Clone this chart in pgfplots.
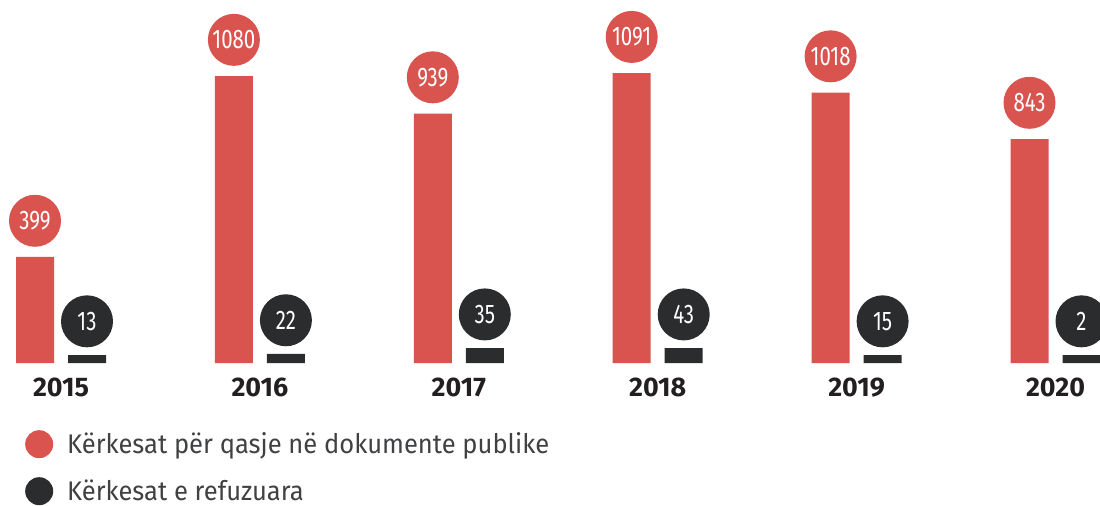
\documentclass[border=0pt]{standalone}
\usepackage{fontspec}
\setmainfont{Fira Sans}
\newfontfamily\numfont[FakeStretch=0.76]{Fira Sans}
\newfontfamily\legfont[FakeStretch=0.95]{Fira Sans}
\usepackage{pgfplots}
\usepackage{pgfplotstable}
\pgfplotsset{compat=1.18}

\definecolor{redbar}{RGB}{217,83,79}
\definecolor{darkbar}{RGB}{43,44,46}
\definecolor{yeartext}{RGB}{35,31,32}

% requests for access to public documents
\pgfplotstableread{
x h v
0 399 399
1 1080 1080
2 939 939
3 1091 1091
4 1018 1018
5 843 843
}\requests

% refused requests: h = drawn bar height, v = printed value
\pgfplotstableread{
x h v
0 30 13
1 34 22
2 56 35
3 56 43
4 30 15
5 30 2
}\refused

\begin{document}
\begin{tikzpicture}
\begin{axis}[
    width=1100bp, height=363bp, scale only axis,
    xmin=-0.30669, xmax=5.22373,
    ymin=0, ymax=1366.2,
    axis line style={draw=none},
    ytick=\empty,
    xtick={0,...,5},
    xticklabels={2015,2016,2017,2018,2019,2020},
    major tick length=0pt,
    xtick style={draw=none},
    xticklabel style={font=\bfseries\fontsize{27}{30}\selectfont, text=yeartext,
        anchor=north, inner sep=0pt, yshift=-15bp},
    legend style={at={(axis description cs:0.022727,-0.18457)}, anchor=north west,
        draw=none, fill=none, inner sep=0pt, row sep=19bp,
        font=\legfont\fontsize{27}{30}\selectfont,
        nodes={inner sep=0pt, text=darkbar!90}},
    legend cell align=left,
    nodes near coords,
    point meta=explicit symbolic,
]
\addplot[ybar, bar width=38bp, bar shift=-26bp, fill=redbar, draw=none,
    nodes near coords style={circle, fill=redbar, minimum size=52bp, inner sep=0pt,
        text=white, font=\numfont\fontsize{27}{30}\selectfont, anchor=south,
        xshift=-26bp, yshift=10bp},
    legend image code/.code={\fill[redbar] (14bp,0bp) circle (14bp); \path (0bp,0bp) (42bp,0bp);}]
    table[x=x, y=h, meta=v] {\requests};
\addlegendentry{Kërkesat për qasje në dokumente publike}

\addplot[ybar, bar width=38bp, bar shift=26bp, fill=darkbar, draw=none,
    nodes near coords style={circle, fill=darkbar, minimum size=52bp, inner sep=0pt,
        text=white, font=\numfont\fontsize{27}{30}\selectfont, anchor=south,
        xshift=26bp, yshift=7.5bp},
    legend image code/.code={\fill[darkbar] (14bp,0bp) circle (14bp); \path (0bp,0bp) (42bp,0bp);}]
    table[x=x, y=h, meta=v] {\refused};
\addlegendentry{Kërkesat e refuzuara}
\end{axis}
\pgfresetboundingbox
\path (current axis.south west) ++(0,-143bp) rectangle (current axis.north east);
\end{tikzpicture}
\end{document}
